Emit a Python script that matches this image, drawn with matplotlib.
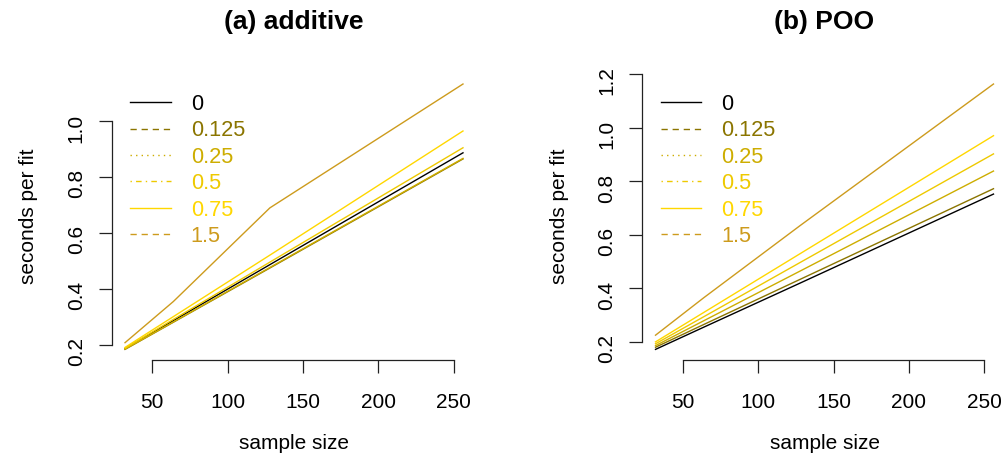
import matplotlib
matplotlib.use('Agg')
from matplotlib import pyplot as plt
from matplotlib.lines import Line2D

plt.rcParams['font.family'] = ['Liberation Sans', 'DejaVu Sans']

# sample sizes
sample_size = [32, 64, 128, 256]

# effect sizes (legend labels)
effects = ['0', '0.125', '0.25', '0.5', '0.75', '1.5']

# seconds per fit, (a) additive model
additive = {
    '0': [0.186, 0.286, 0.486, 0.886],
    '0.125': [0.183, 0.280, 0.474, 0.864],
    '0.25': [0.184, 0.281, 0.476, 0.866],
    '0.5': [0.187, 0.290, 0.495, 0.904],
    '0.75': [0.190, 0.300, 0.520, 0.964],
    '1.5': [0.207, 0.354, 0.689, 1.132],
}

# seconds per fit, (b) POO model
poo = {
    '0': [0.172, 0.255, 0.420, 0.752],
    '0.125': [0.180, 0.265, 0.434, 0.772],
    '0.25': [0.186, 0.279, 0.465, 0.838],
    '0.5': [0.193, 0.294, 0.497, 0.902],
    '0.75': [0.200, 0.310, 0.530, 0.970],
    '1.5': [0.225, 0.365, 0.635, 1.163],
}

colors = ['#000000', '#8B7500', '#CDAD00', '#EEC900', '#FFD700', '#CD9B1D']
legend_styles = ['-', (0, (4.5, 3.5)), (0, (1, 3)), (0, (1, 3, 4, 3)), '-', (0, (4.5, 3.5))]


def draw_panel(ax, data, title, yticks):
    for eff, col in zip(effects, colors):
        ax.plot(sample_size, data[eff], color=col, lw=1.0)
    ax.margins(x=0.04, y=0.04)

    # R-style axes
    for side in ['top', 'right']:
        ax.spines[side].set_visible(False)
    for side in ['left', 'bottom']:
        ax.spines[side].set_linewidth(0.9)
        ax.spines[side].set_color('#222222')
    ax.set_xticks([50, 100, 150, 200, 250])
    ax.set_yticks(yticks)
    ax.set_yticklabels([f'{v:.1f}' for v in yticks])
    ax.spines['bottom'].set_bounds(50, 250)
    ax.spines['left'].set_bounds(yticks[0], yticks[-1])
    ax.tick_params(length=9.4, width=0.9, color='#222222', labelsize=15)
    ax.tick_params(axis='x', pad=14.4)
    ax.tick_params(axis='y', pad=9.1, labelrotation=90)

    ax.set_xlabel('sample size', fontsize=15, labelpad=16)
    ax.set_ylabel('seconds per fit', fontsize=15, labelpad=20.6)
    ax.set_title(title, fontsize=19, fontweight='bold', pad=32.3)

    handles = [Line2D([], [], color=c, ls=s, lw=1.0) for c, s in zip(colors, legend_styles)]
    ax.legend(handles, effects, loc='upper left', bbox_to_anchor=(0.0507, 0.929),
              frameon=False, fontsize=15.7, labelcolor='linecolor', handlelength=1.87,
              handletextpad=0.92, labelspacing=0.25, borderpad=0, borderaxespad=0)


fig = plt.figure(figsize=(10.08, 4.72), dpi=100)
ax_a = fig.add_axes([111.5 / 1008, 112 / 472, 365 / 1008, 286.6 / 472])
ax_b = fig.add_axes([642 / 1008, 112 / 472, 365 / 1008, 286.6 / 472])

draw_panel(ax_a, additive, '(a) additive', [0.2, 0.4, 0.6, 0.8, 1.0])
draw_panel(ax_b, poo, '(b) POO', [0.2, 0.4, 0.6, 0.8, 1.0, 1.2])

fig.savefig('out.png', dpi=100)
